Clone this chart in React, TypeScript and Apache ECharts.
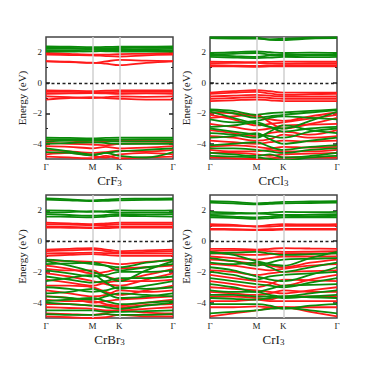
import React, { useEffect, useRef } from "react";
import * as echarts from "echarts";

// k-path: Γ – M – K – Γ (path length units)
const K_LABELS = ["Γ", "M", "K", "Γ"];
const K_TICKS = [0, 0.577, 0.911, 1.577];
const K_GRID = [0, 0.289, 0.577, 0.744, 0.911, 1.244, 1.577];
const Y_MAJOR = [-4, -2, 0, 2];
const Y_MINOR = [-3, -1, 1];
const Y_MIN = -5;
const Y_MAX = 3;

const PANEL_NAMES = ["CrF", "CrCl", "CrBr", "CrI"];
const PANEL_SUB = ["3", "3", "3", "3"];

// ---- CrF3 ----
const crF3Up: number[][] = [
  [1.95, 1.9, 1.85, 1.85, 1.88, 1.9, 1.95],
  [1.85, 1.82, 1.8, 1.75, 1.72, 1.8, 1.85],
  [1.42, 1.38, 1.3, 1.4, 1.5, 1.45, 1.42],
  [1.4, 1.35, 1.32, 1.25, 1.15, 1.3, 1.4],
  [-0.5, -0.52, -0.55, -0.52, -0.5, -0.5, -0.5],
  [-0.6, -0.6, -0.62, -0.62, -0.6, -0.6, -0.6],
  [-0.72, -0.7, -0.68, -0.7, -0.72, -0.7, -0.72],
  [-0.9, -0.95, -1.0, -0.95, -0.9, -0.92, -0.9],
  [-1.1, -1.0, -0.95, -1.0, -1.05, -1.1, -1.1],
  [-3.75, -3.8, -3.9, -3.85, -3.8, -3.78, -3.75],
  [-3.95, -4.0, -4.05, -4.1, -4.0, -3.98, -3.95],
  [-4.15, -4.2, -4.3, -4.2, -4.3, -4.25, -4.15],
  [-4.4, -4.5, -4.6, -4.55, -4.45, -4.5, -4.4],
  [-4.7, -4.6, -4.8, -4.9, -4.7, -4.6, -4.7],
  [-4.85, -4.9, -4.95, -4.8, -4.95, -4.9, -4.85],
];
const crF3Down: number[][] = [
  [2.38, 2.36, 2.33, 2.35, 2.36, 2.37, 2.38],
  [2.3, 2.28, 2.25, 2.27, 2.28, 2.29, 2.3],
  [2.22, 2.22, 2.2, 2.18, 2.18, 2.2, 2.22],
  [2.12, 2.1, 2.06, 2.1, 2.12, 2.1, 2.12],
  [2.05, 2.05, 2.08, 2.06, 2.05, 2.04, 2.05],
  [-3.6, -3.62, -3.65, -3.62, -3.6, -3.6, -3.6],
  [-3.7, -3.72, -3.7, -3.75, -3.72, -3.7, -3.7],
  [-3.85, -3.8, -3.78, -3.8, -3.85, -3.85, -3.85],
  [-4.0, -3.95, -3.9, -3.95, -4.0, -4.0, -4.0],
  [-4.3, -4.5, -4.7, -4.6, -4.5, -4.4, -4.3],
  [-4.55, -4.6, -4.75, -4.6, -4.8, -4.9, -4.55],
];

// ---- CrCl3 ----
const crCl3Up: number[][] = [
  [1.38, 1.36, 1.35, 1.37, 1.38, 1.38, 1.38],
  [1.28, 1.3, 1.3, 1.25, 1.25, 1.28, 1.28],
  [1.15, 1.12, 1.1, 1.12, 1.15, 1.15, 1.15],
  [1.08, 1.07, 1.05, 1.07, 1.08, 1.08, 1.08],
  [-0.65, -0.55, -0.48, -0.55, -0.65, -0.65, -0.65],
  [-0.72, -0.65, -0.6, -0.7, -0.8, -0.75, -0.72],
  [-0.9, -0.85, -0.8, -0.85, -0.9, -0.9, -0.9],
  [-1.05, -1.0, -0.95, -1.0, -1.05, -1.05, -1.05],
  [-1.2, -1.15, -1.1, -1.15, -1.2, -1.2, -1.2],
  [-1.95, -2.0, -2.2, -2.4, -2.5, -2.2, -1.95],
  [-2.1, -2.4, -2.8, -2.7, -2.6, -2.35, -2.1],
  [-2.3, -2.2, -2.1, -2.6, -3.0, -2.7, -2.3],
  [-2.7, -2.9, -3.1, -3.0, -2.8, -2.75, -2.7],
  [-3.1, -3.3, -3.5, -3.3, -3.2, -3.4, -3.1],
  [-3.5, -3.6, -3.8, -3.7, -3.4, -3.6, -3.5],
  [-3.8, -3.9, -4.0, -3.9, -3.8, -3.85, -3.8],
  [-4.2, -4.1, -4.2, -4.3, -4.2, -4.25, -4.2],
  [-4.4, -4.5, -4.5, -4.4, -4.5, -4.5, -4.4],
  [-4.6, -4.6, -4.7, -4.8, -4.7, -4.65, -4.6],
  [-4.9, -4.95, -5.0, -4.95, -4.9, -4.9, -4.9],
];
const crCl3Down: number[][] = [
  [2.98, 2.97, 2.95, 2.85, 2.88, 2.95, 2.98],
  [2.92, 2.9, 2.9, 2.82, 2.8, 2.9, 2.92],
  [1.95, 2.0, 2.05, 2.0, 1.95, 1.97, 1.95],
  [1.85, 1.9, 1.95, 1.85, 1.8, 1.85, 1.85],
  [1.8, 1.75, 1.7, 1.8, 1.85, 1.82, 1.8],
  [1.7, 1.65, 1.62, 1.65, 1.7, 1.68, 1.7],
  [-1.75, -1.85, -2.1, -2.0, -1.95, -1.85, -1.75],
  [-1.8, -2.0, -2.3, -2.2, -2.1, -1.95, -1.8],
  [-1.9, -2.3, -2.7, -2.9, -3.0, -2.5, -1.9],
  [-2.4, -2.6, -2.5, -2.3, -2.2, -2.3, -2.4],
  [-2.9, -2.8, -2.6, -2.9, -3.2, -3.0, -2.9],
  [-3.0, -3.2, -3.4, -3.5, -3.6, -3.2, -3.0],
  [-3.3, -3.4, -3.6, -3.2, -2.8, -3.1, -3.3],
  [-3.6, -3.5, -3.3, -3.7, -4.0, -3.8, -3.6],
  [-4.1, -4.0, -3.9, -4.2, -4.4, -4.2, -4.1],
  [-4.3, -4.3, -4.4, -4.5, -4.6, -4.4, -4.3],
  [-4.6, -4.7, -4.8, -4.7, -4.9, -4.8, -4.6],
  [-4.8, -4.85, -4.9, -5.0, -5.1, -4.9, -4.8],
];

// ---- CrBr3 ----
const crBr3Up: number[][] = [
  [1.2, 1.15, 1.1, 1.15, 1.2, 1.2, 1.2],
  [1.1, 1.08, 1.05, 1.05, 1.1, 1.1, 1.1],
  [0.95, 0.93, 0.9, 0.93, 0.95, 0.95, 0.95],
  [0.88, 0.87, 0.85, 0.85, 0.88, 0.88, 0.88],
  [-0.55, -0.5, -0.45, -0.55, -0.65, -0.6, -0.55],
  [-0.65, -0.6, -0.55, -0.65, -0.75, -0.7, -0.65],
  [-0.8, -0.78, -0.75, -0.78, -0.8, -0.8, -0.8],
  [-0.95, -0.9, -0.85, -0.9, -0.95, -0.95, -0.95],
  [-1.25, -1.3, -1.35, -1.4, -1.5, -1.35, -1.25],
  [-1.6, -1.8, -2.1, -2.0, -1.8, -1.7, -1.6],
  [-1.8, -1.9, -1.9, -2.3, -2.5, -2.2, -1.8],
  [-2.1, -2.3, -2.6, -2.8, -2.9, -2.5, -2.1],
  [-2.5, -2.7, -2.9, -2.7, -2.6, -2.6, -2.5],
  [-2.9, -2.9, -3.0, -3.3, -3.5, -3.2, -2.9],
  [-3.2, -3.4, -3.6, -3.5, -3.2, -3.3, -3.2],
  [-3.6, -3.7, -4.0, -3.9, -3.8, -3.7, -3.6],
  [-3.8, -3.9, -3.9, -4.1, -4.2, -4.0, -3.8],
  [-4.1, -4.1, -4.2, -4.2, -4.3, -4.15, -4.1],
  [-4.3, -4.35, -4.4, -4.5, -4.5, -4.4, -4.3],
  [-4.7, -4.75, -4.8, -4.7, -4.5, -4.65, -4.7],
  [-4.9, -4.95, -5.0, -4.95, -4.8, -4.9, -4.9],
];
const crBr3Down: number[][] = [
  [2.78, 2.72, 2.65, 2.7, 2.75, 2.76, 2.78],
  [2.7, 2.65, 2.6, 2.62, 2.65, 2.68, 2.7],
  [2.0, 1.98, 1.9, 1.95, 2.0, 1.98, 2.0],
  [1.85, 1.88, 1.95, 1.9, 1.85, 1.85, 1.85],
  [1.75, 1.7, 1.65, 1.7, 1.75, 1.72, 1.75],
  [1.6, 1.58, 1.55, 1.6, 1.65, 1.62, 1.6],
  [-1.2, -1.3, -1.5, -1.6, -1.7, -1.4, -1.2],
  [-1.3, -1.6, -2.0, -2.3, -2.6, -1.9, -1.3],
  [-1.5, -1.45, -1.4, -1.6, -1.9, -1.7, -1.5],
  [-1.9, -2.1, -2.3, -2.2, -2.0, -2.0, -1.9],
  [-2.3, -2.5, -2.7, -2.6, -2.4, -2.4, -2.3],
  [-2.6, -2.4, -2.2, -2.7, -3.1, -2.9, -2.6],
  [-3.0, -3.1, -3.3, -3.2, -3.0, -3.1, -3.0],
  [-3.4, -3.3, -3.1, -3.4, -3.7, -3.6, -3.4],
  [-3.6, -3.7, -3.8, -3.6, -3.4, -3.5, -3.6],
  [-3.9, -3.8, -3.7, -3.9, -4.1, -4.0, -3.9],
  [-4.0, -4.1, -4.2, -4.3, -4.4, -4.2, -4.0],
  [-4.5, -4.5, -4.5, -4.6, -4.6, -4.55, -4.5],
  [-4.75, -4.8, -4.8, -4.75, -4.8, -4.8, -4.75],
];

// ---- CrI3 ----
const crI3Up: number[][] = [
  [1.1, 1.05, 0.95, 1.05, 1.1, 1.08, 1.1],
  [1.0, 1.0, 0.95, 0.95, 1.0, 1.0, 1.0],
  [0.8, 0.78, 0.75, 0.78, 0.8, 0.8, 0.8],
  [0.75, 0.74, 0.72, 0.72, 0.75, 0.75, 0.75],
  [-0.5, -0.5, -0.55, -0.5, -0.45, -0.48, -0.5],
  [-0.65, -0.6, -0.6, -0.65, -0.7, -0.68, -0.65],
  [-0.8, -0.85, -0.9, -0.85, -0.8, -0.8, -0.8],
  [-1.0, -1.1, -1.2, -1.1, -1.0, -1.0, -1.0],
  [-1.2, -1.3, -1.5, -1.6, -1.7, -1.4, -1.2],
  [-1.5, -1.6, -1.8, -1.9, -1.8, -1.6, -1.5],
  [-1.9, -2.0, -2.2, -2.1, -2.0, -1.95, -1.9],
  [-2.2, -2.4, -2.6, -2.7, -2.9, -2.5, -2.2],
  [-2.6, -2.8, -3.0, -2.8, -2.5, -2.55, -2.6],
  [-3.0, -3.1, -3.2, -3.3, -3.4, -3.2, -3.0],
  [-3.3, -3.4, -3.5, -3.4, -3.2, -3.3, -3.3],
  [-3.6, -3.6, -3.7, -3.8, -3.6, -3.6, -3.6],
  [-3.9, -3.9, -3.8, -3.9, -3.9, -3.9, -3.9],
  [-4.3, -4.3, -4.25, -4.3, -4.3, -4.3, -4.3],
  [-4.9, -4.7, -4.5, -4.35, -4.3, -4.6, -4.9],
];
const crI3Down: number[][] = [
  [2.6, 2.55, 2.45, 2.5, 2.55, 2.58, 2.6],
  [2.5, 2.45, 2.4, 2.42, 2.45, 2.48, 2.5],
  [1.9, 1.85, 1.8, 1.85, 1.9, 1.88, 1.9],
  [1.75, 1.78, 1.8, 1.75, 1.7, 1.72, 1.75],
  [1.65, 1.6, 1.55, 1.6, 1.65, 1.62, 1.65],
  [1.55, 1.52, 1.45, 1.5, 1.55, 1.55, 1.55],
  [-0.7, -0.9, -1.3, -1.5, -1.6, -1.1, -0.7],
  [-0.8, -0.75, -0.7, -0.8, -0.9, -0.85, -0.8],
  [-1.1, -1.3, -1.6, -1.4, -1.2, -1.15, -1.1],
  [-1.4, -1.5, -1.4, -1.7, -2.0, -1.7, -1.4],
  [-1.7, -1.9, -2.3, -2.5, -2.6, -2.2, -1.7],
  [-2.0, -2.2, -2.5, -2.3, -2.2, -2.1, -2.0],
  [-2.4, -2.6, -2.8, -2.9, -3.0, -2.7, -2.4],
  [-2.8, -3.0, -3.3, -3.1, -2.9, -2.85, -2.8],
  [-3.2, -3.3, -3.3, -3.5, -3.6, -3.4, -3.2],
  [-3.5, -3.5, -3.6, -3.6, -3.7, -3.6, -3.5],
  [-3.7, -3.75, -3.8, -3.7, -3.6, -3.65, -3.7],
  [-4.1, -4.1, -4.1, -4.2, -4.4, -4.2, -4.1],
  [-4.7, -4.6, -4.5, -4.4, -4.35, -4.5, -4.7],
];

const SPIN_UP = [crF3Up, crCl3Up, crBr3Up, crI3Up];
const SPIN_DOWN = [crF3Down, crCl3Down, crBr3Down, crI3Down];

// layout (px)
const GRIDS = [
  { left: 46, top: 37, width: 127, height: 122 },
  { left: 210, top: 37, width: 127, height: 122 },
  { left: 46, top: 195, width: 127, height: 123 },
  { left: 210, top: 195, width: 127, height: 123 },
];

const RED = "#ff1a1a";
const GREEN = "#0a8a0a";
const SERIF = "Liberation Serif, DejaVu Serif, serif";

function fmtY(v: number) {
  return v < 0 ? "\u2212" + Math.abs(v) : String(v);
}
function fmtK(v: number) {
  let best = 0;
  for (let i = 0; i < K_TICKS.length; i++) {
    if (Math.abs(K_TICKS[i] - v) < Math.abs(K_TICKS[best] - v)) best = i;
  }
  return K_LABELS[best];
}

export default function App() {
  const ref = useRef<HTMLDivElement>(null);
  useEffect(() => {
    if (!ref.current) return;
    const chart = echarts.init(ref.current, undefined, { renderer: "svg" });
    const grid: any[] = [];
    const xAxis: any[] = [];
    const yAxis: any[] = [];
    const series: any[] = [];
    const title: any[] = [];

    GRIDS.forEach((g, i) => {
      grid.push({ ...g, show: true, borderColor: "#444", borderWidth: 1.5, backgroundColor: "transparent" });
      xAxis.push({
        gridIndex: i,
        type: "value",
        min: K_TICKS[0],
        max: K_TICKS[K_TICKS.length - 1],
        axisLine: { show: false },
        axisTick: { show: false },
        splitLine: { show: false },
        axisLabel: {
          customValues: K_TICKS,
          formatter: fmtK,
          fontFamily: SERIF,
          fontSize: 9,
          color: "#222",
          margin: 3,
        },
      });
      const base = {
        gridIndex: i,
        type: "value",
        min: Y_MIN,
        max: Y_MAX,
        interval: 1,
        axisLine: { show: false },
        splitLine: { show: false },
      };
      yAxis.push({
        ...base,
        position: "left",
        axisTick: { show: true, inside: true, length: 4, customValues: Y_MAJOR, lineStyle: { color: "#222", width: 1.5 } },
        axisLabel: { customValues: Y_MAJOR, formatter: fmtY, fontFamily: SERIF, fontSize: 9, color: "#222", margin: 4 },
        name: "Energy (eV)",
        nameLocation: "middle",
        nameGap: 19,
        nameTextStyle: { fontFamily: SERIF, fontSize: 11, color: "#222" },
      });
      yAxis.push({
        ...base,
        position: "left",
        axisTick: { show: true, inside: true, length: 2, customValues: Y_MINOR, lineStyle: { color: "#222", width: 1 } },
        axisLabel: { show: false },
      });
      yAxis.push({
        ...base,
        position: "right",
        axisTick: { show: true, inside: true, length: 4, customValues: Y_MAJOR, lineStyle: { color: "#222", width: 1.5 } },
        axisLabel: { show: false },
      });
      yAxis.push({
        ...base,
        position: "right",
        axisTick: { show: true, inside: true, length: 2, customValues: Y_MINOR, lineStyle: { color: "#222", width: 1 } },
        axisLabel: { show: false },
      });
      const yi = i * 4;
      const addBands = (bands: number[][], color: string) => {
        bands.forEach((b) => {
          series.push({
            type: "line",
            xAxisIndex: i,
            yAxisIndex: yi,
            data: b.map((e, k) => [K_GRID[k], e]),
            smooth: 0.35,
            symbol: "none",
            clip: true,
            silent: true,
            lineStyle: { color, width: 1.8 },
            z: 2,
          });
        });
      };
      addBands(SPIN_UP[i], RED);
      addBands(SPIN_DOWN[i], GREEN);
      series.push({
        type: "line",
        xAxisIndex: i,
        yAxisIndex: yi,
        data: [],
        z: 5,
        silent: true,
        markLine: {
          silent: true,
          symbol: "none",
          label: { show: false },
          data: [
            { xAxis: K_TICKS[1], lineStyle: { color: "#cfcfcf", width: 1.5, type: "solid" } },
            { xAxis: K_TICKS[2], lineStyle: { color: "#cfcfcf", width: 1.5, type: "solid" } },
            { yAxis: 0, lineStyle: { color: "#222", width: 1.3, type: [3, 2.5] } },
          ],
        },
      });
      title.push({
        text: "{a|" + PANEL_NAMES[i] + "}{b|" + PANEL_SUB[i] + "}",
        left: g.left + g.width / 2,
        top: g.top + g.height + 13,
        padding: 0,
        textAlign: "center",
        textStyle: {
          fontWeight: "normal",
          rich: {
            a: { fontFamily: SERIF, fontSize: 13, fontWeight: "normal", color: "#222", lineHeight: 15, verticalAlign: "bottom" },
            b: { fontFamily: SERIF, fontSize: 9, fontWeight: "normal", color: "#222", lineHeight: 15, verticalAlign: "bottom", padding: [4, 0, 0, 0] },
          },
        },
      });
    });

    chart.setOption({
      animation: false,
      backgroundColor: "#fff",
      title,
      grid,
      xAxis,
      yAxis,
      series,
    });
    return () => chart.dispose();
  }, []);
  return <div ref={ref} style={{ position: "fixed", left: 0, top: 0, width: 374, height: 374 }} />;
}
